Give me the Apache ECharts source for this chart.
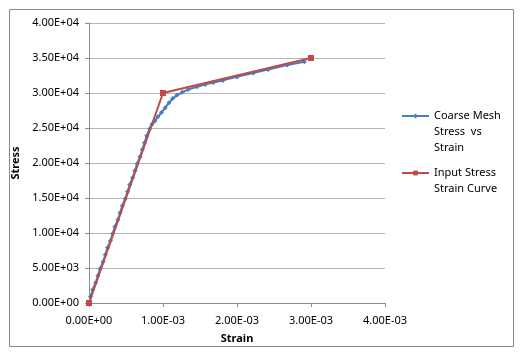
<!DOCTYPE html>
<html>
<head>
<meta charset="utf-8">
<script src="https://cdn.jsdelivr.net/npm/echarts@6/dist/echarts.min.js"></script>
<style>
  html, body { margin: 0; padding: 0; background: #fff; }
  #chart { width: 522px; height: 354px; }
</style>
</head>
<body>
<div id="chart"></div>
<script>
// coarse mesh result
const meshStrain = [
  0.00002, 0.00005, 0.00009, 0.00012, 0.00015, 0.00019, 0.00022, 0.00025,
  0.00029, 0.00032, 0.00035, 0.00039, 0.00042, 0.00045, 0.00049, 0.00052,
  0.00055, 0.00059, 0.00062, 0.00065, 0.00069, 0.00072, 0.00075, 0.00078,
  0.00082, 0.00085, 0.00089, 0.00093, 0.00098, 0.00103, 0.00108, 0.00113,
  0.00119, 0.00126, 0.00134, 0.00146, 0.00157, 0.00168, 0.00181, 0.00200,
  0.00222, 0.00242, 0.00268, 0.00291
];
const meshStress = [
  900, 1900, 2900, 3900, 4900, 5900, 6900, 7900,
  8900, 9900, 10900, 11900, 12900, 13900, 14900, 15900,
  16900, 17900, 18900, 19900, 20900, 21900, 22900, 23900,
  24900, 25500, 26000, 26600, 27200, 27900, 28600, 29200,
  29700, 30100, 30500, 30900, 31200, 31500, 31800, 32300,
  32850, 33350, 34000, 34450
];

// input curve
const inputStrain = [0, 0.001, 0.003];
const inputStress = [0, 30000, 35000];

const seriesNames = ["Coarse Mesh Stress  vs Strain", "Input Stress Strain Curve"];
// leading blank lines keep the first line level with the legend icon
const legendLines = {
  "Coarse Mesh Stress  vs Strain": "\n\nCoarse Mesh\nStress  vs\nStrain",
  "Input Stress Strain Curve": "\nInput Stress\nStrain Curve"
};

const fontFam = "Noto Sans";

// 4.00E+04 style labels
function sci(v) {
  if (v === 0) return "0.00E+00";
  const e = Math.floor(Math.log10(Math.abs(v)) + 1e-9);
  const m = v / Math.pow(10, e);
  const sign = e < 0 ? "-" : "+";
  const ex = String(Math.abs(e)).padStart(2, "0");
  return m.toFixed(2) + "E" + sign + ex;
}

const chart = echarts.init(document.getElementById("chart"));

const legendBase = {
  left: 396,
  itemWidth: 27, itemHeight: 6,
  formatter: (n) => legendLines[n],
  textStyle: { fontSize: 11, color: "#000", lineHeight: 16 }
};

chart.setOption({
  animation: false,
  backgroundColor: "#fff",
  textStyle: { fontFamily: fontFam },
  graphic: [
    {
      type: "rect",
      shape: { x: 9.5, y: 9.5, width: 504, height: 337 },
      style: { fill: "none", stroke: "#8a8a8a", lineWidth: 1 },
      silent: true
    }
  ],
  grid: { left: 89, right: 137, top: 23, bottom: 51 },
  legend: [
    Object.assign({}, legendBase, { data: [seriesNames[0]], top: 71 }),
    Object.assign({}, legendBase, { data: [seriesNames[1]], top: 144 })
  ],
  xAxis: {
    type: "value",
    min: 0, max: 0.004, interval: 0.001,
    name: "Strain",
    nameLocation: "middle",
    nameGap: 30,
    nameTextStyle: { fontSize: 11, fontWeight: "bold", color: "#000" },
    axisLine: { show: true, lineStyle: { color: "#8c8c8c" } },
    axisTick: { show: true, length: 4, lineStyle: { color: "#8c8c8c" } },
    axisLabel: { fontSize: 11, color: "#000", margin: 12, formatter: sci },
    splitLine: { show: false }
  },
  yAxis: {
    type: "value",
    min: 0, max: 40000, interval: 5000,
    name: "Stress",
    nameLocation: "middle",
    nameGap: 62,
    nameRotate: 90,
    nameTextStyle: { fontSize: 11, fontWeight: "bold", color: "#000" },
    axisLine: { show: true, lineStyle: { color: "#8c8c8c" } },
    axisTick: { show: true, length: 4, lineStyle: { color: "#8c8c8c" } },
    axisLabel: { fontSize: 11, color: "#000", margin: 10, formatter: sci },
    splitLine: { show: true, lineStyle: { color: "#b4b4b4", width: 1 } }
  },
  series: [
    {
      name: seriesNames[0],
      type: "line",
      data: meshStrain.map((s, i) => [s, meshStress[i]]),
      symbol: "diamond",
      symbolSize: 5,
      lineStyle: { color: "#4a7ebb", width: 2 },
      itemStyle: { color: "#4a7ebb" },
      z: 2
    },
    {
      name: seriesNames[1],
      type: "line",
      data: inputStrain.map((s, i) => [s, inputStress[i]]),
      symbol: "rect",
      symbolSize: 6,
      lineStyle: { color: "#be4b48", width: 2 },
      itemStyle: { color: "#be4b48" },
      z: 3
    }
  ]
});
</script>
</body>
</html>
